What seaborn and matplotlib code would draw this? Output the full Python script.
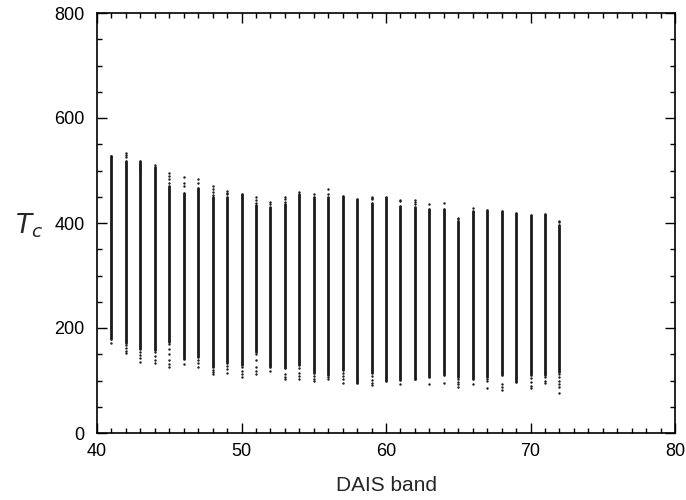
import matplotlib
matplotlib.use("Agg")
import matplotlib.pyplot as plt
from matplotlib.ticker import MultipleLocator
import seaborn as sns
import pandas as pd

bands = list(range(41, 73))
line_top = [527, 518, 518, 507, 470, 457, 467, 450, 450, 455, 434, 430, 436, 455, 450, 450,
            452, 445, 439, 449, 432, 431, 427, 427, 404, 422, 425, 422, 420, 415, 417, 397]
line_bottom = [180, 172, 160, 158, 174, 141, 145, 126, 133, 130, 155, 126, 123, 130, 114, 110,
               120, 95, 114, 100, 101, 103, 106, 110, 107, 102, 107, 110, 98, 110, 110, 117]
top_dots = [[528], [533, 530, 526], [510, 505, 500], [510], [495, 490, 483, 476],
            [487, 477, 470], [484, 476], [470, 465, 460, 453], [461, 458, 455], [],
            [449, 444, 439], [440, 436], [449, 445, 440], [459], [455], [465, 455],
            [], [], [449, 447, 445], [], [444, 441], [443, 440, 437], [436], [439],
            [410, 407], [428], [], [], [], [], [], [404, 401]]
bottom_dots = [[171], [167, 162, 157, 152], [155, 148, 142, 136], [154, 147, 139, 133],
               [170, 160, 150, 140, 132, 126], [131], [140, 133, 126], [120, 116, 112],
               [128, 122, 115], [126, 118, 112, 107], [150, 140, 125, 118, 112], [119],
               [112, 106, 102], [124, 114, 108, 102], [108, 102, 99], [106, 102],
               [115, 108, 102, 95], [], [108, 101, 95, 91], [], [93], [103], [93], [95],
               [103, 98, 93, 87], [93], [103, 100, 86], [93, 87, 82], [], [104, 97, 90, 85],
               [106, 100, 95], [112, 106, 100, 94, 88, 77]]

sns.set_style("ticks")
plt.rcParams["font.family"] = ["Liberation Sans", "DejaVu Sans"]

line_df = pd.DataFrame({
    "band": bands + bands,
    "Tc": line_bottom + line_top,
})
dot_rows = []
for b, tops, bots in zip(bands, top_dots, bottom_dots):
    for v in tops + bots:
        dot_rows.append({"band": b, "Tc": v})
dot_df = pd.DataFrame(dot_rows)

fig = plt.figure(figsize=(6.86, 5.00), dpi=100)
ax = fig.add_axes([0.1414, 0.134, 0.8426, 0.840])

sns.lineplot(data=line_df, x="band", y="Tc", units="band", estimator=None,
             color="#1a1a1a", lw=2.0, ax=ax, legend=False)
sns.scatterplot(data=dot_df, x="band", y="Tc", color="#1a1a1a", s=3,
                linewidth=0, ax=ax, legend=False)

ax.set_xlim(40, 80)
ax.set_ylim(0, 800)
ax.xaxis.set_major_locator(MultipleLocator(10))
ax.xaxis.set_minor_locator(MultipleLocator(1))
ax.yaxis.set_major_locator(MultipleLocator(200))
ax.yaxis.set_minor_locator(MultipleLocator(50))
ax.tick_params(which="both", direction="in", top=True, right=True, width=1.0,
               labelsize=13, colors="black")
ax.tick_params(which="major", length=7)
ax.tick_params(which="minor", length=3.5)
ax.tick_params(axis="x", pad=7)
ax.tick_params(axis="y", pad=9)
for s in ax.spines.values():
    s.set_linewidth(1.2)
    s.set_color("black")

ax.set_xlabel("DAIS band", fontsize=15, labelpad=12)
ax.set_ylabel("")
fig.text(0.042, 0.548, r"$T_c$", fontsize=19, ha="center", va="center")

fig.savefig("out.png", dpi=100)
